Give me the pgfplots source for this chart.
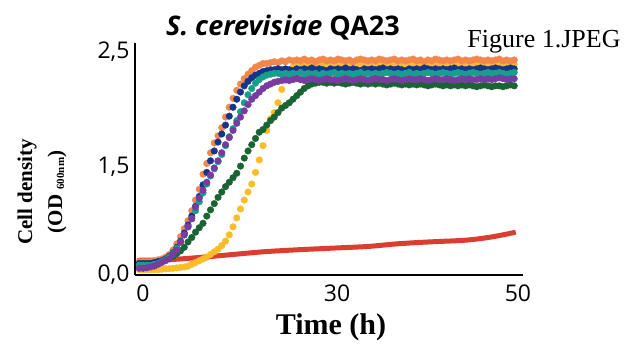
\documentclass[border=0pt]{standalone}
\usepackage{pgfplots}
\pgfplotsset{compat=1.18}
\usepackage{fontspec}
\setmainfont{Liberation Serif}
\newfontfamily\tickfont{Open Sans}
\newfontfamily\titlefont{Open Sans}
\definecolor{cO}{RGB}{241,135,75}
\definecolor{cN}{RGB}{22,52,140}
\definecolor{cT}{RGB}{22,160,140}
\definecolor{cP}{RGB}{120,60,160}
\definecolor{cY}{RGB}{250,188,40}
\definecolor{cG}{RGB}{25,100,50}
\definecolor{cR}{RGB}{215,40,25}
\begin{document}
\begin{tikzpicture}[x=1pt,y=1pt]
\path[use as bounding box] (0,0) rectangle (626,343);
\begin{axis}[
  at={(135pt,68pt)}, anchor=south west,
  scale only axis, width=388pt, height=232pt,
  xmin=-1.07, xmax=50.67, ymin=0, ymax=2.6,
  axis x line*=bottom, axis y line*=left,
  axis line style={-, line width=2pt, black},
  major tick length=0pt,
  xtick={0,25.87,50}, xticklabels={0,30,50},
  ytick={0,1.21,2.5}, yticklabels={{0,0},{1,5},{2,5}},
  tick label style={font=\tickfont\fontsize{23}{23}\selectfont, text=black},
  xticklabel style={yshift=-6pt},
  yticklabel style={xshift=-2pt},
  every axis plot/.append style={only marks, mark=*, mark size=3.3pt},
]
\addplot[cY, mark options={draw=none, fill=cY}] coordinates {(-0.5,.06)(0,.06)(0.5,.06)(1,.06)(1.5,.06)(2,.06)(2.5,.065)(3,.07)(3.5,.07)(4,.075)(4.5,.08)(5,.085)(5.5,.09)(6,.10)(6.5,.12)(7,.14)(7.5,.16)(8,.18)(8.5,.20)(9,.23)(9.5,.26)(10,.29)(10.5,.33)(11,.38)(11.5,.45)(12,.54)(12.5,.64)(13,.74)(13.5,.84)(14,.93)(14.5,1.02)(15,1.15)(15.5,1.29)(16,1.45)(16.5,1.62)(17,1.75)(17.5,1.82)(18,1.93)(18.5,2.08)(19,2.18)(19.5,2.26)(20,2.33)(20.5,2.35)(21,2.36)(21.5,2.35)(22,2.36)(22.5,2.37)(23,2.36)(23.5,2.35)(24,2.36)(24.5,2.37)(25,2.36)(25.5,2.35)(26,2.36)(26.5,2.37)(27,2.36)(27.5,2.36)(28,2.35)(28.5,2.36)(29,2.37)(29.5,2.36)(30,2.35)(30.5,2.36)(31,2.37)(31.5,2.36)(32,2.36)(32.5,2.37)(33,2.36)(33.5,2.35)(34,2.36)(34.5,2.37)(35,2.36)(35.5,2.36)(36,2.37)(36.5,2.36)(37,2.35)(37.5,2.36)(38,2.37)(38.5,2.36)(39,2.36)(39.5,2.37)(40,2.36)(40.5,2.35)(41,2.36)(41.5,2.37)(42,2.36)(42.5,2.37)(43,2.36)(43.5,2.36)(44,2.37)(44.5,2.36)(45,2.35)(45.5,2.36)(46,2.37)(46.5,2.36)(47,2.37)(47.5,2.36)(48,2.37)(48.5,2.36)(49,2.37)(49.5,2.36)};
\addplot[cR, no marks, sharp plot, smooth, line width=5pt, opacity=0.9] coordinates {(-0.8,.165)(3,.17)(5,.18)(8,.20)(12,.23)(16,.26)(20,.28)(25,.30)(30,.32)(34,.35)(38,.37)(43,.39)(46,.42)(48,.45)(49.7,.48)};
\addplot[cG, mark options={draw=none, fill=cG}] coordinates {(-0.5,.13)(0,.13)(0.5,.13)(1,.13)(1.5,.14)(2,.15)(2.5,.16)(3,.18)(3.5,.19)(4,.21)(4.5,.24)(5,.27)(5.5,.31)(6,.37)(6.5,.42)(7,.48)(7.5,.53)(8,.58)(8.5,.66)(9,.73)(9.5,.80)(10,.87)(10.5,.93)(11,.99)(11.5,1.04)(12,1.09)(12.5,1.14)(13,1.22)(13.5,1.31)(14,1.39)(14.5,1.46)(15,1.53)(15.5,1.60)(16,1.63)(16.5,1.68)(17,1.73)(17.5,1.77)(18,1.82)(18.5,1.87)(19,1.90)(19.5,1.93)(20,1.97)(20.5,2.01)(21,2.05)(21.5,2.09)(22,2.12)(22.5,2.14)(23,2.15)(23.5,2.16)(24,2.16)(24.5,2.15)(25,2.16)(25.5,2.15)(26,2.16)(26.5,2.15)(27,2.14)(27.5,2.15)(28,2.16)(28.5,2.15)(29,2.14)(29.5,2.15)(30,2.14)(30.5,2.15)(31,2.14)(31.5,2.15)(32,2.14)(32.5,2.13)(33,2.14)(33.5,2.15)(34,2.14)(34.5,2.13)(35,2.14)(35.5,2.13)(36,2.14)(36.5,2.13)(37,2.14)(37.5,2.13)(38,2.12)(38.5,2.13)(39,2.14)(39.5,2.13)(40,2.12)(40.5,2.13)(41,2.12)(41.5,2.13)(42,2.12)(42.5,2.13)(43,2.12)(43.5,2.13)(44,2.12)(44.5,2.11)(45,2.12)(45.5,2.13)(46,2.12)(46.5,2.11)(47,2.12)(47.5,2.12)(48,2.11)(48.5,2.12)(49,2.13)(49.5,2.12)};
\addplot[cO, mark options={draw=none, fill=cO}] coordinates {(-0.5,.15)(0,.15)(0.5,.15)(1,.15)(1.5,.16)(2,.17)(2.5,.18)(3,.20)(3.5,.23)(4,.28)(4.5,.35)(5,.43)(5.5,.52)(6,.61)(6.5,.72)(7,.84)(7.5,.96)(8,1.13)(8.5,1.25)(9,1.37)(9.5,1.48)(10,1.56)(10.5,1.65)(11,1.77)(11.5,1.88)(12,1.98)(12.5,2.07)(13,2.14)(13.5,2.20)(14,2.25)(14.5,2.29)(15,2.33)(15.5,2.35)(16,2.37)(16.5,2.37)(17,2.38)(17.5,2.39)(18,2.38)(18.5,2.40)(19,2.39)(19.5,2.41)(20,2.40)(20.5,2.41)(21,2.40)(21.5,2.42)(22,2.40)(22.5,2.41)(23,2.39)(23.5,2.41)(24,2.42)(24.5,2.40)(25,2.41)(25.5,2.40)(26,2.42)(26.5,2.41)(27,2.40)(27.5,2.41)(28,2.39)(28.5,2.41)(29,2.42)(29.5,2.41)(30,2.40)(30.5,2.41)(31,2.40)(31.5,2.42)(32,2.41)(32.5,2.40)(33,2.41)(33.5,2.42)(34,2.40)(34.5,2.41)(35,2.40)(35.5,2.41)(36,2.42)(36.5,2.40)(37,2.41)(37.5,2.39)(38,2.41)(38.5,2.40)(39,2.42)(39.5,2.41)(40,2.40)(40.5,2.41)(41,2.40)(41.5,2.41)(42,2.42)(42.5,2.40)(43,2.41)(43.5,2.40)(44,2.41)(44.5,2.42)(45,2.41)(45.5,2.40)(46,2.41)(46.5,2.40)(47,2.41)(47.5,2.42)(48,2.40)(48.5,2.41)(49,2.40)(49.5,2.41)};
\addplot[cN, mark options={draw=none, fill=cN}] coordinates {(-0.5,.13)(0,.13)(0.5,.13)(1,.13)(1.5,.14)(2,.15)(2.5,.16)(3,.18)(3.5,.21)(4,.25)(4.5,.31)(5,.38)(5.5,.47)(6,.56)(6.5,.66)(7,.77)(7.5,.88)(8,1.01)(8.5,1.15)(9,1.28)(9.5,1.39)(10,1.49)(10.5,1.58)(11,1.68)(11.5,1.78)(12,1.88)(12.5,1.97)(13,2.05)(13.5,2.12)(14,2.17)(14.5,2.21)(15,2.24)(15.5,2.26)(16,2.28)(16.5,2.29)(17,2.30)(17.5,2.30)(18,2.31)(18.5,2.30)(19,2.31)(19.5,2.30)(20,2.29)(20.5,2.31)(21,2.30)(21.5,2.31)(22,2.30)(22.5,2.32)(23,2.30)(23.5,2.31)(24,2.30)(24.5,2.29)(25,2.31)(25.5,2.30)(26,2.31)(26.5,2.30)(27,2.32)(27.5,2.30)(28,2.31)(28.5,2.30)(29,2.29)(29.5,2.31)(30,2.30)(30.5,2.31)(31,2.30)(31.5,2.31)(32,2.32)(32.5,2.30)(33,2.31)(33.5,2.30)(34,2.31)(34.5,2.30)(35,2.29)(35.5,2.31)(36,2.30)(36.5,2.31)(37,2.30)(37.5,2.32)(38,2.31)(38.5,2.30)(39,2.31)(39.5,2.30)(40,2.31)(40.5,2.30)(41,2.31)(41.5,2.32)(42,2.30)(42.5,2.31)(43,2.30)(43.5,2.31)(44,2.30)(44.5,2.31)(45,2.32)(45.5,2.31)(46,2.30)(46.5,2.31)(47,2.32)(47.5,2.31)(48,2.30)(48.5,2.31)(49,2.32)(49.5,2.31)};
\addplot[cT, mark options={draw=none, fill=cT}] coordinates {(-0.5,.11)(0,.11)(0.5,.11)(1,.11)(1.5,.12)(2,.13)(2.5,.15)(3,.17)(3.5,.20)(4,.24)(4.5,.30)(5,.37)(5.5,.45)(6,.54)(6.5,.63)(7,.72)(7.5,.82)(8,.92)(8.5,1.02)(9,1.11)(9.5,1.19)(10,1.27)(10.5,1.35)(11,1.45)(11.5,1.55)(12,1.64)(12.5,1.73)(13,1.83)(13.5,1.93)(14,2.02)(14.5,2.09)(15,2.15)(15.5,2.19)(16,2.22)(16.5,2.24)(17,2.25)(17.5,2.26)(18,2.26)(18.5,2.25)(19,2.26)(19.5,2.25)(20,2.26)(20.5,2.25)(21,2.27)(21.5,2.25)(22,2.26)(22.5,2.25)(23,2.26)(23.5,2.24)(24,2.26)(24.5,2.25)(25,2.26)(25.5,2.27)(26,2.25)(26.5,2.26)(27,2.25)(27.5,2.26)(28,2.25)(28.5,2.26)(29,2.27)(29.5,2.25)(30,2.26)(30.5,2.25)(31,2.26)(31.5,2.25)(32,2.26)(32.5,2.27)(33,2.26)(33.5,2.25)(34,2.26)(34.5,2.25)(35,2.26)(35.5,2.27)(36,2.25)(36.5,2.26)(37,2.25)(37.5,2.26)(38,2.27)(38.5,2.26)(39,2.25)(39.5,2.26)(40,2.27)(40.5,2.26)(41,2.25)(41.5,2.26)(42,2.27)(42.5,2.26)(43,2.25)(43.5,2.26)(44,2.27)(44.5,2.26)(45,2.25)(45.5,2.26)(46,2.27)(46.5,2.26)(47,2.26)(47.5,2.27)(48,2.26)(48.5,2.25)(49,2.26)(49.5,2.27)};
\addplot[cP, mark options={draw=none, fill=cP}] coordinates {(-0.5,.075)(0,.075)(0.5,.08)(1,.09)(1.5,.10)(2,.12)(2.5,.14)(3,.16)(3.5,.18)(4,.23)(4.5,.28)(5,.37)(5.5,.45)(6,.54)(6.5,.63)(7,.76)(7.5,.86)(8,.95)(8.5,1.04)(9,1.12)(9.5,1.20)(10,1.28)(10.5,1.37)(11,1.46)(11.5,1.54)(12,1.62)(12.5,1.70)(13,1.77)(13.5,1.84)(14,1.91)(14.5,1.97)(15,2.01)(15.5,2.05)(16,2.09)(16.5,2.12)(17,2.14)(17.5,2.16)(18,2.17)(18.5,2.18)(19,2.19)(19.5,2.18)(20,2.19)(20.5,2.20)(21,2.19)(21.5,2.18)(22,2.19)(22.5,2.20)(23,2.19)(23.5,2.18)(24,2.19)(24.5,2.20)(25,2.19)(25.5,2.19)(26,2.18)(26.5,2.19)(27,2.20)(27.5,2.19)(28,2.18)(28.5,2.19)(29,2.20)(29.5,2.19)(30,2.18)(30.5,2.19)(31,2.20)(31.5,2.19)(32,2.19)(32.5,2.18)(33,2.19)(33.5,2.20)(34,2.19)(34.5,2.18)(35,2.19)(35.5,2.20)(36,2.19)(36.5,2.19)(37,2.20)(37.5,2.19)(38,2.18)(38.5,2.19)(39,2.20)(39.5,2.19)(40,2.19)(40.5,2.20)(41,2.19)(41.5,2.18)(42,2.19)(42.5,2.20)(43,2.19)(43.5,2.20)(44,2.19)(44.5,2.19)(45,2.20)(45.5,2.19)(46,2.20)(46.5,2.19)(47,2.20)(47.5,2.21)(48,2.20)(48.5,2.19)(49,2.20)(49.5,2.20)};
\end{axis}
\node[font=\titlefont\bfseries\fontsize{27}{27}\selectfont] at (283,315) {\textit{S. cerevisiae} QA23};
\node[font=\fontsize{26}{26}\selectfont] at (544,301) {Figure 1.JPEG};
\node[font=\bfseries\fontsize{30}{30}\selectfont] at (331,16) {Time (h)};
\node[rotate=90, font=\bfseries\fontsize{21}{21}\selectfont] at (27,151) {Cell density};
\node[rotate=90, font=\bfseries\fontsize{21}{21}\selectfont] at (57,151) {(OD \raisebox{-2pt}{\fontsize{11}{11}\selectfont 600nm})};
\end{tikzpicture}
\end{document}
